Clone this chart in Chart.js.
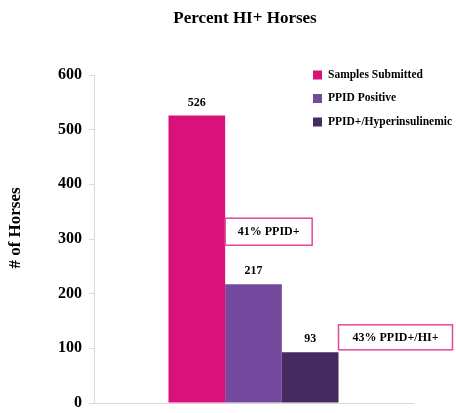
<!DOCTYPE html>
<html>
<head>
<meta charset="utf-8">
<script src="https://cdn.jsdelivr.net/npm/chart.js@4/dist/chart.umd.min.js"></script>
<style>
    html, body { margin: 0; padding: 0; background: #fff; }
    #wrap { width: 456px; height: 413px; }
</style>
</head>
<body>
<div id="wrap"><canvas id="chart-hi-horses" width="456" height="413"></canvas></div>
<script>
// Datos del gráfico
const categorias = [''];
const etiquetasSeries = ['Samples Submitted', 'PPID Positive', 'PPID+/Hyperinsulinemic'];
const muestrasEnviadas = [526];
const ppidPositivos = [217];
const ppidHiperinsulinemicos = [93];
const textosLlamadas = ['41% PPID+', '43% PPID+/HI+'];
const titulo = 'Percent HI+ Horses';
const tituloEjeY = '# of Horses';
const yMax = 600;
const yPaso = 100;

const colores = ['#da117b', '#74489d', '#452a60'];
const fuente = "'Liberation Serif', 'Times New Roman', serif";

/**
 * Título del gráfico y del eje Y
 */
const titulos = {
    id: 'titulos',
    afterDraw(chart) {
        const ctx = chart.ctx;
        ctx.save();
        ctx.fillStyle = '#000';
        ctx.textAlign = 'center';
        ctx.textBaseline = 'middle';
        ctx.font = `bold 17px ${fuente}`;
        ctx.fillText(titulo, 245, 19);
        ctx.translate(16, 228);
        ctx.rotate(-Math.PI / 2);
        ctx.fillText(tituloEjeY, 0, 0);
        ctx.restore();
    }
};

/**
 * Etiquetas de valores sobre cada barra
 */
const etiquetasValores = {
    id: 'etiquetasValores',
    afterDatasetsDraw(chart) {
        const ctx = chart.ctx;
        ctx.save();
        ctx.font = `bold 12px ${fuente}`;
        ctx.fillStyle = '#000';
        ctx.textAlign = 'center';
        ctx.textBaseline = 'middle';
        chart.data.datasets.forEach((ds, i) => {
            chart.getDatasetMeta(i).data.forEach((bar, j) => {
                ctx.fillText(ds.data[j], bar.x, bar.y - 13);
            });
        });
        ctx.restore();
    }
};

/**
 * Leyenda dentro del área del gráfico
 */
const leyenda = {
    id: 'leyendaInterna',
    afterDraw(chart) {
        const ctx = chart.ctx;
        const x = 313;
        ctx.save();
        ctx.font = `bold 11.5px ${fuente}`;
        ctx.textBaseline = 'middle';
        ctx.textAlign = 'left';
        chart.data.datasets.forEach((ds, i) => {
            const y = 75 + i * 23.5;
            ctx.fillStyle = ds.backgroundColor;
            ctx.fillRect(x, y - 4.5, 9, 9);
            ctx.fillStyle = '#000';
            ctx.fillText(ds.label, x + 15, y);
        });
        ctx.restore();
    }
};

/**
 * Cuadros de llamada con porcentajes
 */
const llamadas = {
    id: 'llamadas',
    afterDraw(chart) {
        const ctx = chart.ctx;
        const y = chart.scales.y;
        const b2 = chart.getDatasetMeta(1).data[0];
        const b3 = chart.getDatasetMeta(2).data[0];
        const cajas = [
            { x: b2.x - b2.width / 2, y: y.getPixelForValue(338), w: 87, h: 27, t: textosLlamadas[0] },
            { x: b3.x + b3.width / 2, y: y.getPixelForValue(143), w: 114, h: 25, t: textosLlamadas[1] }
        ];
        ctx.save();
        ctx.font = `bold 12px ${fuente}`;
        ctx.textAlign = 'center';
        ctx.textBaseline = 'middle';
        cajas.forEach(c => {
            ctx.fillStyle = '#fff';
            ctx.fillRect(c.x, c.y, c.w, c.h);
            ctx.strokeStyle = '#e0479a';
            ctx.lineWidth = 1.5;
            ctx.strokeRect(c.x, c.y, c.w, c.h);
            ctx.fillStyle = '#000';
            ctx.fillText(c.t, c.x + c.w / 2, c.y + c.h / 2 + 0.5);
        });
        ctx.restore();
    }
};

const fondoBlanco = {
    id: 'fondoBlanco',
    beforeDraw(chart) {
        const ctx = chart.ctx;
        ctx.save();
        ctx.fillStyle = '#fff';
        ctx.fillRect(0, 0, chart.width, chart.height);
        ctx.restore();
    }
};

const series = [muestrasEnviadas, ppidPositivos, ppidHiperinsulinemicos];

new Chart(document.getElementById('chart-hi-horses'), {
    type: 'bar',
    data: {
        labels: categorias,
        datasets: series.map((valores, i) => ({
            label: etiquetasSeries[i],
            data: valores,
            backgroundColor: colores[i],
            borderWidth: 0
        }))
    },
    options: {
        responsive: false,
        animation: false,
        categoryPercentage: 0.533,
        barPercentage: 1,
        layout: { padding: { left: 0, right: 43, top: 75, bottom: 0 } },
        plugins: {
            legend: { display: false },
            tooltip: { enabled: false },
            title: { display: false }
        },
        scales: {
            x: {
                grid: { display: false },
                border: { display: true, color: '#d9d9d9' },
                ticks: { display: false },
                afterFit(scale) { scale.height = 10; }
            },
            y: {
                min: 0,
                max: yMax,
                ticks: {
                    stepSize: yPaso,
                    color: '#000',
                    padding: 7,
                    font: { family: fuente, size: 16, weight: 'bold' }
                },
                grid: { drawOnChartArea: false, tickLength: 5, color: '#d9d9d9' },
                border: { color: '#d9d9d9' },
                afterFit(scale) {
                    scale.width = 94;
                    scale.paddingTop = 0;
                    scale.paddingBottom = 0;
                }
            }
        }
    },
    plugins: [fondoBlanco, etiquetasValores, leyenda, llamadas, titulos]
});
</script>
</body>
</html>
